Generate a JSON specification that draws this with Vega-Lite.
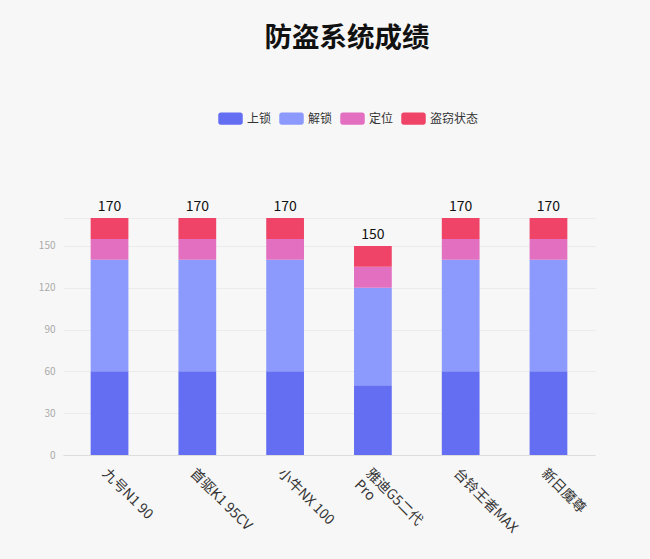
{
  "$schema": "https://vega.github.io/schema/vega-lite/v6.json",
  "autosize": {"type": "none"},
  "width": 532,
  "height": 237,
  "padding": {"left": 63, "top": 218, "right": 55, "bottom": 104},
  "background": "#f7f7f7",
  "config": {
    "view": {"stroke": null},
    "font": "Noto Sans CJK SC"
  },
  "title": {
    "text": "防盗系统成绩",
    "fontSize": 27.5,
    "fontWeight": "bold",
    "color": "#111111",
    "anchor": "middle",
    "dx": 18,
    "offset": 54
  },
  "data": {
    "values": [
      {"model": "九号N1 90", "state": "上锁", "value": 60},
      {"model": "九号N1 90", "state": "解锁", "value": 80},
      {"model": "九号N1 90", "state": "定位", "value": 15},
      {"model": "九号N1 90", "state": "盗窃状态", "value": 15},
      {"model": "首驱K1 95CV", "state": "上锁", "value": 60},
      {"model": "首驱K1 95CV", "state": "解锁", "value": 80},
      {"model": "首驱K1 95CV", "state": "定位", "value": 15},
      {"model": "首驱K1 95CV", "state": "盗窃状态", "value": 15},
      {"model": "小牛NX 100", "state": "上锁", "value": 60},
      {"model": "小牛NX 100", "state": "解锁", "value": 80},
      {"model": "小牛NX 100", "state": "定位", "value": 15},
      {"model": "小牛NX 100", "state": "盗窃状态", "value": 15},
      {"model": "雅迪G5二代 Pro", "state": "上锁", "value": 50},
      {"model": "雅迪G5二代 Pro", "state": "解锁", "value": 70},
      {"model": "雅迪G5二代 Pro", "state": "定位", "value": 15},
      {"model": "雅迪G5二代 Pro", "state": "盗窃状态", "value": 15},
      {"model": "台铃王者MAX", "state": "上锁", "value": 60},
      {"model": "台铃王者MAX", "state": "解锁", "value": 80},
      {"model": "台铃王者MAX", "state": "定位", "value": 15},
      {"model": "台铃王者MAX", "state": "盗窃状态", "value": 15},
      {"model": "新日魔尊", "state": "上锁", "value": 60},
      {"model": "新日魔尊", "state": "解锁", "value": 80},
      {"model": "新日魔尊", "state": "定位", "value": 15},
      {"model": "新日魔尊", "state": "盗窃状态", "value": 15}
    ]
  },
  "encoding": {
    "x": {
      "field": "model",
      "type": "nominal",
      "sort": null,
      "title": null,
      "scale": {"paddingInner": 0.57, "paddingOuter": 0.315},
      "axis": {
        "labelAngle": 45,
        "labelAlign": "left",
        "labelBaseline": "top",
        "labelFontSize": 14,
        "labelColor": "#333333",
        "labelPadding": 11,
        "labelDx": 9,
        "labelExpr": "datum.label == '雅迪G5二代 Pro' ? ['雅迪G5二代', 'Pro'] : datum.label",
        "ticks": false,
        "domainColor": "#dddddd",
        "grid": false
      }
    }
  },
  "layer": [
    {
      "transform": [
        {"calculate": "indexof(['上锁', '解锁', '定位', '盗窃状态'], datum.state)", "as": "stack_rank"}
      ],
      "mark": {"type": "bar"},
      "encoding": {
        "y": {
          "field": "value",
          "type": "quantitative",
          "aggregate": "sum",
          "title": null,
          "scale": {"domain": [0, 170], "nice": false},
          "axis": {
            "values": [0, 30, 60, 90, 120, 150, 170],
            "tickCount": 10,
            "labelExpr": "datum.value == 170 ? '' : datum.label",
            "labelOverlap": false,
            "labelColor": "#aaaaaa",
            "labelFontSize": 10,
            "labelPadding": 8,
            "ticks": false,
            "domain": false,
            "gridColor": "#ebebeb"
          }
        },
        "color": {
          "field": "state",
          "type": "nominal",
          "sort": ["上锁", "解锁", "定位", "盗窃状态"],
          "scale": {
            "domain": ["上锁", "解锁", "定位", "盗窃状态"],
            "range": ["#646ef2", "#8b9afc", "#e26fc0", "#ef4468"]
          },
          "legend": {
            "title": null,
            "orient": "none",
            "direction": "horizontal",
            "legendX": 155,
            "legendY": -112,
            "symbolType": "M-0.8,-0.5H0.8A0.2,0.2 0 0 1 1,-0.3V0.3A0.2,0.2 0 0 1 0.8,0.5H-0.8A0.2,0.2 0 0 1 -1,0.3V-0.3A0.2,0.2 0 0 1 -0.8,-0.5Z",
            "symbolSize": 600,
            "symbolStrokeWidth": 0,
            "symbolOpacity": 1,
            "labelFontSize": 12,
            "labelColor": "#333333",
            "labelOffset": 4,
            "columnPadding": 7
          }
        },
        "order": {"field": "stack_rank", "type": "quantitative"}
      }
    },
    {
      "transform": [
        {"aggregate": [{"op": "sum", "field": "value", "as": "total"}], "groupby": ["model"]}
      ],
      "mark": {"type": "text", "dy": -11, "fontSize": 14, "color": "#111111"},
      "encoding": {
        "y": {"field": "total", "type": "quantitative"},
        "text": {"field": "total", "type": "quantitative"}
      }
    }
  ]
}
